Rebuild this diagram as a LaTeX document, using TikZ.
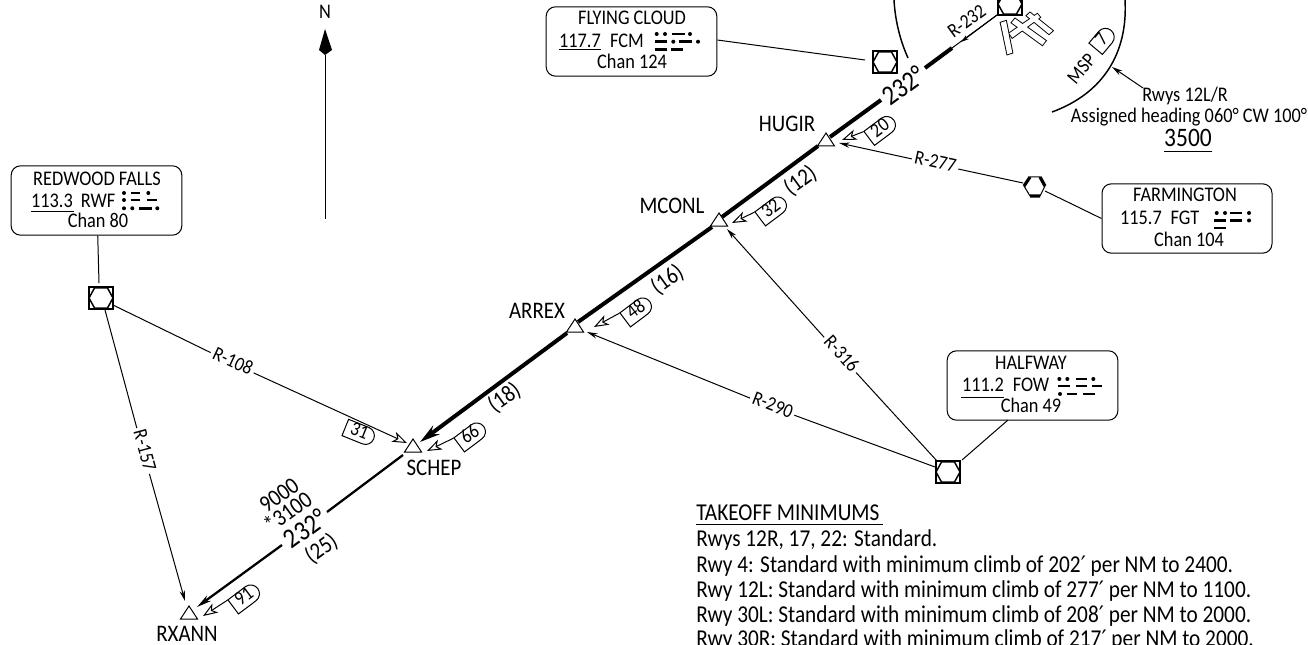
\documentclass[tikz,border=0pt]{standalone}
\usepackage{fontspec}
\setmainfont[FakeStretch=0.88]{Carlito}
\newfontfamily\symf{DejaVu Sans}
\usetikzlibrary{arrows.meta,shapes.misc,calc}
\newcommand{\fsa}{\fontsize{15.6pt}{17pt}\selectfont}   % boxes
\newcommand{\fsb}{\fontsize{17.8pt}{19pt}\selectfont}   % names
\newcommand{\fse}{\fontsize{18.15pt}{19pt}\selectfont}  % notes
\newcommand{\fsc}{\fontsize{15pt}{17pt}\selectfont}   % radials
\newcommand{\fsd}{\fontsize{21pt}{23pt}\selectfont}     % course
\newcommand{\prm}{{\symf\fontsize{17pt}{18pt}\selectfont ′}}
\newcommand{\vtac}[3]{%
  \node[vbox] (#1) at (#2,#3) {};
  \draw[hexline,shift={(#2,#3)}] (-12,0) -- (-6.5,-10) -- (6.5,-10) -- (12,0) -- (6.5,10) -- (-6.5,10) -- cycle;
}
\newcommand{\wpt}[3]{%
  \draw[wpline,shift={(#2,#3)}] (-8.5,0) -- (0,-13) -- (8.5,0) -- cycle;
  \coordinate (#1) at (#2,#3);
}
\newcommand{\mdot}[2]{\fill (#1,#2) circle[radius=2];}
\newcommand{\mdash}[3]{\draw[morse] (#1,#3) -- (#2,#3);}
\tikzset{
  x=0.75pt,y=-0.75pt,
  thin line/.style={line width=0.75pt,line cap=butt},
  midtrack/.style={line width=1.7pt},
  thicktrack/.style={line width=3pt},
  vbox/.style={draw,line width=1.6pt,minimum width=18.5pt,minimum height=16pt,inner sep=0pt,outer sep=1.5pt},
  hexline/.style={line width=1.1pt},
  wpline/.style={draw,fill=white,line width=0.75pt},
  morse/.style={line width=2.1pt},
  txt/.style={inner sep=0pt,text height=0.644em,text depth=0pt},
  names/.style={txt,font=\fsb},
  boxtxt/.style={txt,font=\fsa},
  notetxt/.style={anchor=base west,inner sep=0pt,font=\fse},
  radial/.style={txt,font=\fsc,inner sep=2pt},
  info/.style={draw,line width=0.75pt,rounded corners=7pt},
  fill tip/.style={-{Stealth[length=8pt,width=4pt]}},
  open tip/.style={-{Stealth[open,length=11pt,width=8pt,inset=3pt,fill=white]}},
  course/.style={draw,line width=0.75pt,rounded rectangle,rounded rectangle left arc=none,minimum width=23pt,minimum height=13.2pt,inner sep=0pt,font=\fsc,text height=0.644em,text depth=0pt},
}
\begin{document}
\begin{tikzpicture}
\useasboundingbox (0,0) rectangle (1308,645);
\clip (0,0) rectangle (1308,645);

% ---- north arrow
\node[txt,font=\fsa] (north) at (325,14) {N};
\fill (325,29) -- (332,50) -- (325,55) -- (319,50) -- cycle;
\coordinate (nfoot) at (325,219);
\coordinate (nhead) at (325,55);
\draw[thin line] (nhead) -- (nfoot);

% ---- MSP arcs
\draw[line width=1.1pt] (1052,112) .. controls (1104,93) and (1128,52) .. (1125,0);
\draw[line width=1.1pt] (908,58) .. controls (899,38) and (895,18) .. (894,0);

% ---- airport
\foreach \pass in {0,1}{
  \ifnum\pass=0 \tikzset{rw/.style={draw,line width=1.4pt,line join=miter}}\else \tikzset{rw/.style={fill=white}}\fi
  \path[rw] (1000.7,22.7) -- (1006,21) -- (1012.3,52.7) -- (1007.3,54.3) -- cycle;
  \path[rw] (1009.3,33.3) -- (1037.3,14) -- (1040,17.3) -- (1012.3,37.7) -- cycle;
  \path[rw] (1011.7,22.7) -- (1015,18.7) -- (1045.7,40.7) -- (1042.3,45) -- cycle;
  \path[rw] (1026.7,15.7) -- (1030,12.7) -- (1052.7,30.7) -- (1049,34) -- cycle;
}

% ---- track coordinates
\coordinate (vorA) at (997,15);
\coordinate (t1) at (952,48);
\coordinate (t2) at (925,68);
\coordinate (t3) at (881,100);
\coordinate (t4) at (830,137);
\coordinate (t5) at (818,146);
\coordinate (t6) at (722,217);
\coordinate (t7) at (712,227);
\coordinate (t8) at (578,322);
\coordinate (t9) at (567,333);
\coordinate (t10) at (420,442);
\coordinate (t11) at (403,455);
\coordinate (t12) at (327,512);
\coordinate (t13) at (282,545);
\coordinate (t14) at (197,607);

\draw[thin line] (vorA) -- (t1);
\draw[thicktrack] (t1) -- (t2);
\draw[thicktrack] (t3) -- (t4);
\draw[thicktrack] (t5) -- (t6);
\draw[thicktrack] (t7) -- (t8);
\draw[thicktrack,-{Stealth[length=15pt,width=8pt]}] (t9) -- (t10);
\draw[midtrack] (t11) -- (t12);
\draw[midtrack,-{Stealth[length=11pt,width=5pt]}] (t13) -- (t14);

% ---- waypoints
\wpt{hugir}{826}{146}
\wpt{mconl}{719}{226}
\wpt{arrex}{575}{332}
\wpt{schep}{413}{452}
\wpt{rxann}{189}{619}
\node[names] (nhugir) at (787,127) {HUGIR};
\node[names] (nmconl) at (672,209) {MCONL};
\node[names] (narrex) at (537,314) {ARREX};
\node[names] (nschep) at (434,471) {SCHEP};
\node[names] (nrxann) at (187,637) {RXANN};

% ---- navaids
\vtac{vfcm}{885}{62}
\vtac{vmsp}{1010}{4}
\vtac{vrwf}{101}{298}
\vtac{vfow}{948}{472}
\coordinate (vfgt) at (1034.5,187);
\draw[line width=0.75pt] (1024,186) -- (1030,177) -- (1040,177) -- (1045,186) -- (1040,196) -- (1030,196) -- cycle;
\draw[line width=2.4pt] (1024,186) -- (1030,177) (1040,177) -- (1045,186) (1040,196) -- (1030,196);

% ---- info boxes
\node[info,minimum width=128pt,minimum height=52pt] (bfcm) at (631.5,41.5) {};
\node[info,minimum width=127.5pt,minimum height=52pt] (bfgt) at (1187,218.5) {};
\node[info,minimum width=128pt,minimum height=52pt] (brwf) at (96.5,200.5) {};
\node[info,minimum width=128pt,minimum height=52pt] (bfow) at (1032.5,385.5) {};

\node[boxtxt] (a1) at (632,20) {FLYING CLOUD};
\node[boxtxt] (a2) at (580,43) {117.7};
\node[boxtxt] (a3) at (627,43) {FCM};
\node[boxtxt] (a4) at (632,64) {Chan 124};
\draw[thin line] (559,50) -- (601,50);

\node[boxtxt] (b1) at (1185,197) {FARMINGTON};
\node[boxtxt] (b2) at (1141,220) {115.7};
\node[boxtxt] (b3) at (1185,220) {FGT};
\node[boxtxt] (b4) at (1189,242) {Chan 104};

\node[boxtxt] (c1) at (97,181) {REDWOOD FALLS};
\node[boxtxt] (c2) at (52,203) {113.3};
\node[boxtxt] (c3) at (98,203) {RWF};
\node[boxtxt] (c4) at (98,223) {Chan 80};
\draw[thin line] (31,212) -- (74,212);

\node[boxtxt] (d1) at (1031,365) {HALFWAY};
\node[boxtxt] (d2) at (983,387) {111.2};
\node[boxtxt] (d3) at (1031,387) {FOW};
\node[boxtxt] (d4) at (1031,408) {Chan 49};
\draw[thin line] (961,397) -- (1004,397);

% ---- morse
\mdot{656.7}{34}\mdot{665}{34}\mdash{671.7}{685}{34}\mdot{690}{34}
\mdash{655}{666.7}{41.7}\mdot{673.3}{41.7}\mdash{679.3}{691.7}{41.7}\mdot{698}{41.7}
\mdash{655}{666.7}{49.3}\mdash{671}{683}{49.3}

\mdot{1216.7}{213}\mdot{1225}{213}\mdash{1230}{1241.7}{213}\mdot{1249}{213}
\mdash{1214}{1226}{220.5}\mdash{1230}{1241.7}{220.5}\mdot{1249}{220.5}
\mdash{1214}{1226}{228}

\mdot{124}{193}\mdash{130.7}{140}{193}\mdot{148.3}{193}
\mdot{124}{200}\mdash{130.7}{140}{200}\mdash{146.7}{157.3}{200}
\mdot{124}{208.3}\mdot{132.3}{208.3}\mdash{139.3}{151.7}{208.3}\mdot{157.3}{208.3}

\mdot{1059.3}{379}\mdot{1067.3}{379}\mdash{1075.7}{1086.7}{379}\mdot{1093.3}{379}
\mdash{1058.3}{1070}{386}\mdash{1075.7}{1086.7}{386}\mdash{1091.7}{1102.3}{386}
\mdot{1060}{394}\mdash{1066.7}{1077.3}{394}\mdash{1083.3}{1095}{394}

% ---- box leaders
\coordinate (lfcm) at (865,60);
\coordinate (lrwf) at (99,283);
\coordinate (lfow) at (962,460);
\coordinate (lfgt) at (1045,191);
\coordinate (tfow) at (1008,420);
\draw[thin line] (bfcm.1.7) -- (lfcm);
\draw[thin line] (brwf.-88) -- (lrwf);
\draw[thin line] (tfow) -- (lfow);
\draw[thin line] (bfgt.west) -- (lfgt);

% ---- radials
\node[radial,rotate=-25] (r108) at (232,363) {R-108};
\node[radial,rotate=-75] (r157) at (143,451) {R-157};
\node[radial,rotate=-21] (r290) at (772,407) {R-290};
\node[radial,rotate=-48] (r316) at (840,355) {R-316};
\node[radial,rotate=-12] (r277) at (935,164) {R-277};
\node[radial,rotate=36] (r232) at (968,23) {R-232};
\coordinate (s108) at (113,305);
\coordinate (e108) at (407,443);
\coordinate (s157) at (105,310);
\coordinate (e157) at (185,601);
\coordinate (s290) at (935,467);
\coordinate (e290) at (587,332);
\coordinate (s316) at (937,461);
\coordinate (e316) at (727,229);
\coordinate (s277) at (1023,183);
\coordinate (e277) at (839,143);
\coordinate (a232) at (961,42);
\draw[thin line] (s108) -- (r108);
\draw[thin line,open tip] (r108) -- (e108);
\draw[thin line] (s157) -- (r157);
\draw[thin line,fill tip] (r157) -- (e157);
\draw[thin line] (s290) -- (r290);
\draw[thin line,fill tip] (r290) -- (e290);
\draw[thin line] (s316) -- (r316);
\draw[thin line,fill tip] (r316) -- (e316);
\draw[thin line] (s277) -- (r277);
\draw[thin line,fill tip] (r277) -- (e277);
\draw[thin line,-{Stealth[length=6pt,width=3.5pt]}] (vorA) -- (a232);

% ---- course boxes and open arrows
\node[course,rotate=37] (c20) at (881,129.5) {20};
\node[course,rotate=37] (c32) at (772,210) {32};
\node[course,rotate=37] (c48) at (637,311) {48};
\node[course,rotate=37] (c66) at (471,436) {66};
\node[course,rotate=37] (c91) at (245,598) {91};
\node[course,rotate=-22] (c31) at (359,433) {31};
\node[course,rotate=50,minimum width=18pt] (c7) at (1103,40) {7};
\coordinate (o20) at (842,140);
\coordinate (o32) at (732,223);
\coordinate (o48) at (594,327);
\coordinate (o66) at (427,451);
\coordinate (o91) at (203,616);
\draw[thin line,open tip] (c20.150) -- (o20);
\draw[thin line,open tip] (c32.150) -- (o32);
\draw[thin line,open tip] (c48.150) -- (o48);
\draw[thin line,open tip] (c66.150) -- (o66);
\draw[thin line,open tip] (c91.150) -- (o91);

% ---- track labels
\node[txt,font=\fsd,rotate=36] (l232a) at (906,90) {232°};
\node[names,rotate=36] (l12) at (802,183) {(12)};
\node[names,rotate=36] (l16) at (669,282) {(16)};
\node[names,rotate=36] (l18) at (506,400) {(18)};
\node[names,rotate=36] (l25) at (323,551) {(25)};
\node[txt,font=\fsd,rotate=36] (l232b) at (308,533) {232°};
\node[names,rotate=36] (l3100) at (290,515) {*3100};
\node[names,rotate=36] (l9000) at (281,498) {9000};
\node[radial,rotate=50] (lmsp) at (1083,70) {MSP};

% ---- missed-approach note
\node[boxtxt] (n1) at (1185,97) {Rwys 12L/R};
\node[boxtxt] (n2) at (1189,118) {Assigned heading 060° CW 100°};
\node[txt,font=\fontsize{20pt}{22pt}\selectfont] (n3) at (1188,142) {3500};
\draw[thin line] (1164,152) -- (1212,152);
\coordinate (s12) at (1143,88);
\coordinate (e12) at (1112,67);
\draw[thin line,fill tip] (s12) -- (e12);

% ---- takeoff minimums
\node[notetxt] (m0) at (696,520.5) {TAKEOFF MINIMUMS};
\draw[thin line] (696,524) -- (883,524);
\node[notetxt] (m1) at (696,546) {Rwys 12R, 17, 22: Standard.};
\node[notetxt] (m2) at (696,572) {Rwy 4: Standard with minimum climb of 202\prm{} per NM to 2400.};
\node[notetxt] (m3) at (696,597) {Rwy 12L: Standard with minimum climb of 277\prm{} per NM to 1100.};
\node[notetxt] (m4) at (696,622) {Rwy 30L: Standard with minimum climb of 208\prm{} per NM to 2000.};
\node[notetxt] (m5) at (696,646) {Rwy 30R: Standard with minimum climb of 217\prm{} per NM to 2000.};
\end{tikzpicture}
\end{document}
